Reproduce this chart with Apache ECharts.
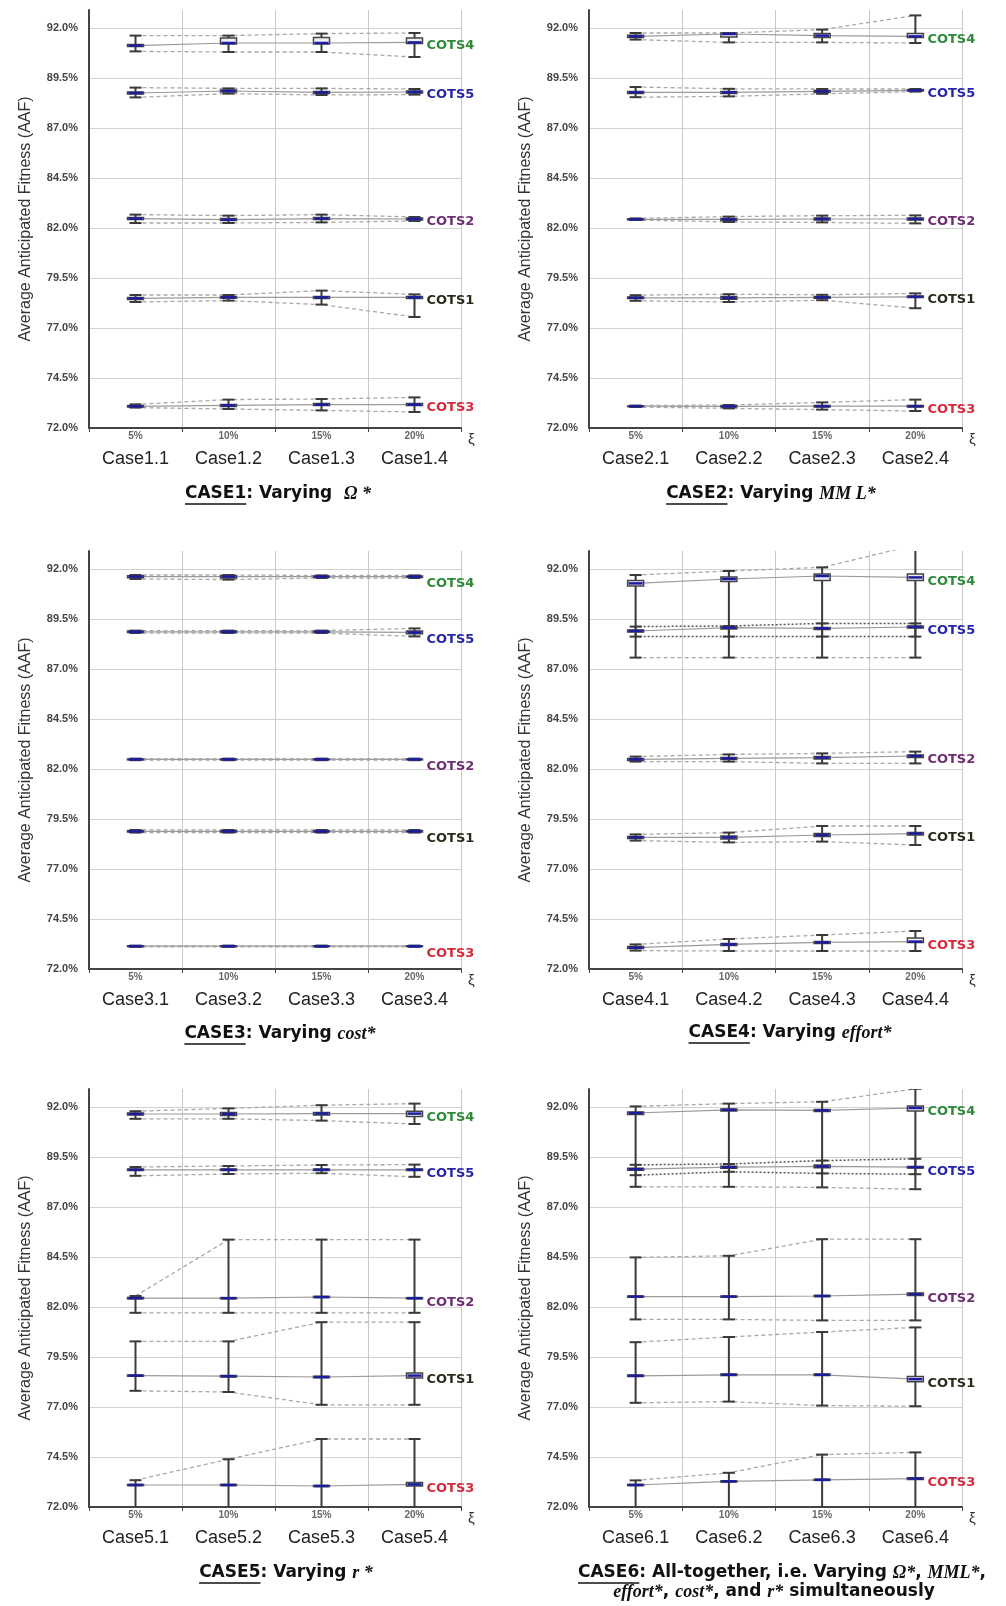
<!DOCTYPE html>
<html>
<head>
<meta charset="utf-8">
<title>AAF per case</title>
<script src="https://cdn.jsdelivr.net/npm/echarts@6/dist/echarts.min.js"></script>
<style>
  html, body { margin: 0; padding: 0; background: #fff; }
  #main { width: 1006px; height: 1606px; }
</style>
</head>
<body>
<div id="main"></div>
<script>
// ---- data (values in %) ----
var cots = ['COTS1', 'COTS2', 'COTS3', 'COTS4', 'COTS5'];
var xiLabels = ['5%', '10%', '15%', '20%'];
var yTickValues = [72.0, 74.5, 77.0, 79.5, 82.0, 84.5, 87.0, 89.5, 92.0];
var yAxisTop = 92.9;

// rows: COTS1..COTS5, columns: 5%,10%,15%,20%
var case1Max = [[78.65, 78.65, 78.87, 78.68], [82.67, 82.62, 82.67, 82.55], [73.18, 73.42, 73.45, 73.53], [91.62, 91.62, 91.72, 91.75], [89.02, 88.98, 88.98, 88.95]];
var case1Q3  = [[78.53, 78.57, 78.58, 78.58], [82.52, 82.47, 82.52, 82.50], [73.12, 73.18, 73.22, 73.22], [91.17, 91.50, 91.53, 91.50], [88.80, 88.90, 88.83, 88.85]];
var case1Med = [[78.48, 78.53, 78.53, 78.53], [82.47, 82.42, 82.47, 82.45], [73.08, 73.13, 73.17, 73.17], [91.12, 91.25, 91.25, 91.28], [88.75, 88.85, 88.78, 88.80]];
var case1Q1  = [[78.43, 78.49, 78.48, 78.48], [82.42, 82.37, 82.42, 82.40], [73.05, 73.08, 73.12, 73.12], [91.07, 91.20, 91.20, 91.22], [88.70, 88.80, 88.73, 88.75]];
var case1Min = [[78.30, 78.37, 78.17, 77.55], [82.25, 82.25, 82.28, 82.35], [73.02, 72.95, 72.88, 72.80], [90.83, 90.80, 90.80, 90.55], [88.53, 88.72, 88.65, 88.67]];

var case2Max = [[78.64, 78.69, 78.66, 78.73], [82.48, 82.57, 82.62, 82.63], [73.12, 73.15, 73.28, 73.42], [91.75, 91.75, 91.92, 92.63], [89.05, 88.96, 88.95, 88.95]];
var case2Q3  = [[78.55, 78.58, 78.57, 78.60], [82.46, 82.48, 82.50, 82.50], [73.10, 73.11, 73.13, 73.13], [91.64, 91.75, 91.72, 91.72], [88.83, 88.83, 88.88, 88.92]];
var case2Med = [[78.51, 78.51, 78.53, 78.56], [82.43, 82.43, 82.45, 82.45], [73.09, 73.08, 73.09, 73.09], [91.58, 91.70, 91.62, 91.58], [88.78, 88.78, 88.83, 88.88]];
var case2Q1  = [[78.47, 78.44, 78.49, 78.52], [82.41, 82.38, 82.40, 82.40], [73.07, 73.05, 73.05, 73.05], [91.52, 91.55, 91.53, 91.52], [88.73, 88.73, 88.78, 88.85]];
var case2Min = [[78.36, 78.30, 78.39, 77.99], [82.40, 82.30, 82.28, 82.23], [73.05, 72.98, 72.92, 72.85], [91.42, 91.28, 91.28, 91.25], [88.54, 88.58, 88.71, 88.82]];

var case3Max = [[78.95, 78.95, 78.95, 78.95], [82.52, 82.52, 82.52, 82.52], [73.17, 73.17, 73.17, 73.17], [91.70, 91.70, 91.68, 91.68], [88.92, 88.92, 88.92, 89.03]];
var case3Q3  = [[78.92, 78.92, 78.92, 78.92], [82.50, 82.50, 82.50, 82.50], [73.16, 73.16, 73.16, 73.16], [91.66, 91.66, 91.65, 91.65], [88.90, 88.90, 88.90, 88.90]];
var case3Med = [[78.88, 78.88, 78.88, 78.88], [82.48, 82.48, 82.48, 82.48], [73.14, 73.14, 73.14, 73.14], [91.62, 91.62, 91.62, 91.62], [88.86, 88.86, 88.86, 88.83]];
var case3Q1  = [[78.85, 78.85, 78.85, 78.85], [82.46, 82.46, 82.46, 82.46], [73.12, 73.12, 73.12, 73.12], [91.56, 91.55, 91.58, 91.58], [88.82, 88.82, 88.82, 88.76]];
var case3Min = [[78.82, 78.82, 78.82, 78.82], [82.44, 82.44, 82.44, 82.44], [73.11, 73.11, 73.11, 73.11], [91.50, 91.47, 91.55, 91.55], [88.80, 88.80, 88.80, 88.63]];

var case4Max = [[78.73, 78.82, 79.15, 79.15], [82.62, 82.73, 82.78, 82.87], [73.23, 73.50, 73.70, 73.90], [91.70, 91.90, 92.08, 93.20], [89.12, 89.15, 89.28, 89.28]];
var case4Q3  = [[78.63, 78.65, 78.77, 78.83], [82.53, 82.58, 82.63, 82.70], [73.12, 73.28, 73.38, 73.55], [91.42, 91.60, 91.75, 91.75], [88.95, 89.12, 89.08, 89.15]];
var case4Med = [[78.58, 78.58, 78.70, 78.77], [82.48, 82.53, 82.57, 82.65], [73.07, 73.23, 73.33, 73.37], [91.28, 91.50, 91.65, 91.58], [88.90, 89.07, 89.03, 89.10]];
var case4Q1  = [[78.53, 78.50, 78.62, 78.70], [82.43, 82.47, 82.50, 82.58], [73.02, 73.17, 73.27, 73.33], [91.15, 91.37, 91.42, 91.42], [88.85, 89.00, 88.97, 89.05]];
var case4Min = [[78.42, 78.33, 78.37, 78.20], [82.37, 82.37, 82.28, 82.28], [72.92, 72.90, 72.90, 72.90], [87.57, 87.57, 87.57, 87.57], [88.62, 88.62, 88.62, 88.62]];

var case5Max = [[80.28, 80.28, 81.24, 81.24], [82.55, 85.37, 85.37, 85.37], [73.34, 74.39, 75.40, 75.40], [91.79, 91.93, 92.09, 92.17], [89.00, 89.05, 89.10, 89.12]];
var case5Q3  = [[78.60, 78.58, 78.54, 78.70], [82.48, 82.47, 82.53, 82.47], [73.13, 73.13, 73.08, 73.22], [91.70, 91.72, 91.72, 91.79], [88.90, 88.90, 88.90, 88.90]];
var case5Med = [[78.57, 78.54, 78.50, 78.57], [82.44, 82.44, 82.50, 82.44], [73.10, 73.10, 73.05, 73.13], [91.65, 91.65, 91.67, 91.67], [88.86, 88.86, 88.86, 88.86]];
var case5Q1  = [[78.54, 78.50, 78.46, 78.45], [82.41, 82.41, 82.47, 82.41], [73.07, 73.07, 73.02, 73.05], [91.60, 91.58, 91.60, 91.53], [88.82, 88.82, 88.82, 88.82]];
var case5Min = [[77.81, 77.75, 77.11, 77.11], [81.71, 81.71, 81.71, 81.71], [71.60, 71.60, 71.60, 71.60], [91.41, 91.41, 91.32, 91.15], [88.56, 88.65, 88.69, 88.51]];

var case6Max = [[80.24, 80.50, 80.75, 80.98], [84.48, 84.56, 85.39, 85.39], [73.33, 73.71, 74.62, 74.73], [92.03, 92.17, 92.26, 92.91], [89.11, 89.15, 89.32, 89.41]];
var case6Q3  = [[78.60, 78.65, 78.65, 78.53], [82.55, 82.55, 82.58, 82.70], [73.13, 73.31, 73.39, 73.46], [91.75, 91.90, 91.88, 92.05], [88.94, 89.04, 89.10, 89.03]];
var case6Med = [[78.56, 78.61, 78.61, 78.39], [82.52, 82.52, 82.55, 82.64], [73.10, 73.28, 73.36, 73.42], [91.70, 91.86, 91.83, 91.95], [88.89, 88.99, 89.03, 88.99]];
var case6Q1  = [[78.52, 78.57, 78.57, 78.26], [82.49, 82.49, 82.52, 82.58], [73.07, 73.25, 73.33, 73.38], [91.62, 91.80, 91.78, 91.80], [88.84, 88.94, 88.96, 88.95]];
var case6Min = [[77.21, 77.27, 77.07, 77.04], [81.38, 81.38, 81.33, 81.33], [71.60, 71.60, 71.60, 71.60], [88.01, 88.01, 87.98, 87.89], [88.59, 88.76, 88.68, 88.64]];

// ---- styling / layout ----
var cotsColors = ['#2b2b1c', '#6e2d72', '#d42a3c', '#2f8a3a', '#2626a8'];
var fontSans = '"Liberation Sans", Arial, sans-serif';
var fontWide = '"DejaVu Sans", Verdana, sans-serif';
var fontSerif = '"Liberation Serif", "Times New Roman", serif';
var colLeft = [89, 589], colWidth = [372, 373];
var rowTop = [10, 551, 1089], gridHeight = 418;
var labelShift = [3, 3, 7, 4, 4, 4];

var panels = [
  {max: case1Max, q3: case1Q3, med: case1Med, q1: case1Q1, min: case1Min},
  {max: case2Max, q3: case2Q3, med: case2Med, q1: case2Q1, min: case2Min},
  {max: case3Max, q3: case3Q3, med: case3Med, q1: case3Q1, min: case3Min},
  {max: case4Max, q3: case4Q3, med: case4Med, q1: case4Q1, min: case4Min},
  {max: case5Max, q3: case5Q3, med: case5Med, q1: case5Q1, min: case5Min},
  {max: case6Max, q3: case6Q3, med: case6Med, q1: case6Q1, min: case6Min}
];

// titles: [text, kind] kind u = underlined bold, b = bold, i = italic serif
var titles = [
  {x: 278, y: 494, parts: [['CASE1', 'u'], [': Varying  ', 'b'], ['Ω *', 'i']]},
  {x: 771, y: 494, parts: [['CASE2', 'u'], [': Varying ', 'b'], ['MM L*', 'i']]},
  {x: 280, y: 1034, parts: [['CASE3', 'u'], [': Varying ', 'b'], ['cost*', 'i']]},
  {x: 790, y: 1033, parts: [['CASE4', 'u'], [': Varying ', 'b'], ['effort*', 'i']]},
  {x: 286, y: 1573, parts: [['CASE5', 'u'], [': Varying ', 'b'], ['r *', 'i']]},
  {x: 782, y: 1573, parts: [['CASE6', 'u'], [': All-together, i.e. Varying ', 'b'], ['Ω*', 'i'], [', ', 'b'], ['MML*', 'i'], [',', 'b']]},
  {x: 774, y: 1592, parts: [['effort*', 'i'], [', ', 'b'], ['cost*', 'i'], [', and ', 'b'], ['r*', 'i'], [' simultaneously', 'b']]}
];

var yBase = yTickValues[0];
var yStep = yTickValues[1] - yTickValues[0];
function toY(v) { return +(v - yBase).toFixed(3); }

var measure = document.createElement('canvas').getContext('2d');
function textWidth(s, font) { measure.font = font; return measure.measureText(s).width; }

function titleGraphic(t) {
  var fonts = {
    u: 'bold 17px ' + fontWide,
    b: 'bold 17px ' + fontWide,
    i: 'italic bold 18px ' + fontSerif
  };
  var total = 0;
  t.parts.forEach(function (p) { total += textWidth(p[0], fonts[p[1]]); });
  var x = t.x - total / 2;
  var els = [];
  t.parts.forEach(function (p) {
    var w = textWidth(p[0], fonts[p[1]]);
    els.push({type: 'text', x: x, y: t.y, style: {text: p[0], font: fonts[p[1]], fill: '#111', verticalAlign: 'middle', align: 'left'}});
    if (p[1] === 'u') {
      els.push({type: 'line', shape: {x1: x, y1: t.y + 10, x2: x + w, y2: t.y + 10}, style: {stroke: '#111', lineWidth: 1.5}});
    }
    x += w;
  });
  return els;
}

function renderGlyph(params, api) {
  var i = api.value(0);
  var pMin = api.coord([i, api.value(1)]);
  var pQ1 = api.coord([i, api.value(2)]);
  var pMed = api.coord([i, api.value(3)]);
  var pQ3 = api.coord([i, api.value(4)]);
  var pMax = api.coord([i, api.value(5)]);
  var x = pMed[0];
  var dark = '#3a3a3a';
  return {
    type: 'group',
    children: [
      {type: 'line', shape: {x1: x, y1: pMax[1], x2: x, y2: pMin[1]}, style: {stroke: dark, lineWidth: 2}},
      {type: 'line', shape: {x1: x - 6, y1: pMax[1], x2: x + 6, y2: pMax[1]}, style: {stroke: dark, lineWidth: 2}},
      {type: 'line', shape: {x1: x - 6, y1: pMin[1], x2: x + 6, y2: pMin[1]}, style: {stroke: dark, lineWidth: 2}},
      {type: 'rect', shape: {x: x - 8, y: pQ3[1], width: 16, height: pQ1[1] - pQ3[1]}, style: {fill: '#eeeef5', stroke: '#444', lineWidth: 1.5}},
      {type: 'line', shape: {x1: x - 7, y1: pMed[1], x2: x + 7, y2: pMed[1]}, style: {stroke: '#1c1ca0', lineWidth: 2.5}}
    ]
  };
}

var option = {
  animation: false,
  backgroundColor: '#fff',
  textStyle: {fontFamily: fontSans},
  grid: [], xAxis: [], yAxis: [], series: [], graphic: []
};

panels.forEach(function (d, p) {
  var col = p % 2, row = Math.floor(p / 2);
  option.grid.push({left: colLeft[col], top: rowTop[row], width: colWidth[col], height: gridHeight});
  option.xAxis.push({
    type: 'category', gridIndex: p, data: xiLabels, boundaryGap: true,
    name: 'ξ', nameLocation: 'end', nameGap: 7,
    nameTextStyle: {fontSize: 15, color: '#333', verticalAlign: 'top', padding: [4, 0, 0, 0]},
    axisLine: {lineStyle: {color: '#444', width: 2}},
    axisTick: {show: true, length: 4, lineStyle: {color: '#444'}},
    splitLine: {show: true, lineStyle: {color: '#c8c8c8'}},
    axisLabel: {
      margin: 2,
      formatter: function (v, idx) { return '{p|' + v + '}\n{c|Case' + (p + 1) + '.' + (idx + 1) + '}'; },
      rich: {
        p: {fontSize: 10, fontWeight: 'bold', color: '#666', lineHeight: 12},
        c: {fontSize: 18, color: '#222', lineHeight: 34}
      }
    }
  });
  option.yAxis.push({
    type: 'value', gridIndex: p, min: 0, max: toY(yAxisTop), interval: yStep,
    name: 'Average Anticipated Fitness (AAF)', nameLocation: 'middle', nameGap: 55,
    nameTextStyle: {fontSize: 16, color: '#333'},
    axisLine: {show: true, lineStyle: {color: '#444', width: 2}},
    axisTick: {show: false},
    axisLabel: {
      fontSize: 11, color: '#444', fontWeight: 'bold', margin: 11, showMaxLabel: false,
      formatter: function (v) {
        var k = v / yStep;
        if (Math.abs(k - Math.round(k)) > 1e-6) return '';
        return (v + yBase).toFixed(1) + '%';
      }
    },
    splitLine: {show: true, showMaxLine: false, lineStyle: {color: '#d2d2d2'}}
  });

  cots.forEach(function (name, k) {
    var dotted = (p === 3 || p === 5) && k === 4;
    var rangeStyle = dotted
      ? {color: '#555', width: 1.5, type: [2, 2]}
      : {color: '#a8a8a8', width: 1.3, type: [4, 3]};
    option.series.push({
      type: 'line', xAxisIndex: p, yAxisIndex: p, silent: true, z: 2,
      data: d.med[k].map(toY), symbol: 'none',
      lineStyle: {color: '#9a9a9a', width: 1.2},
      endLabel: {
        show: true, formatter: name, color: cotsColors[k], fontWeight: 'bold',
        fontSize: 13, fontFamily: fontWide, distance: 12, offset: [0, labelShift[p]]
      }
    });
    option.series.push({
      type: 'line', xAxisIndex: p, yAxisIndex: p, silent: true, z: 2,
      data: d.max[k].map(toY), symbol: 'none', lineStyle: rangeStyle
    });
    option.series.push({
      type: 'line', xAxisIndex: p, yAxisIndex: p, silent: true, z: 2,
      data: d.min[k].map(toY), symbol: 'none', lineStyle: rangeStyle
    });
    option.series.push({
      type: 'custom', xAxisIndex: p, yAxisIndex: p, silent: true, z: 5, clip: true,
      renderItem: renderGlyph,
      encode: {x: 0, y: [1, 2, 3, 4, 5]},
      data: xiLabels.map(function (_, i) {
        return [i, toY(d.min[k][i]), toY(d.q1[k][i]), toY(d.med[k][i]), toY(d.q3[k][i]), toY(d.max[k][i])];
      })
    });
  });
});

titles.forEach(function (t) {
  option.graphic = option.graphic.concat(titleGraphic(t));
});

var myChart = echarts.init(document.getElementById('main'));
myChart.setOption(option);
</script>
</body>
</html>
